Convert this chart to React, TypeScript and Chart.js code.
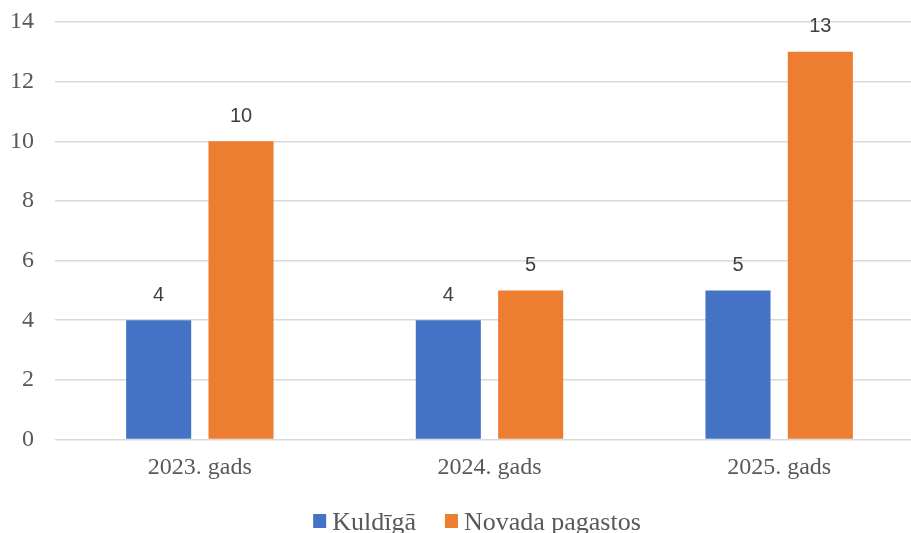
import React, { useEffect, useRef } from "react";
import { Chart, registerables } from "chart.js";

Chart.register(...registerables);

// ---- data ----
const categories = ["2023. gads", "2024. gads", "2025. gads"];
const seriesNames = ["Kuldīgā", "Novada pagastos"];
const kuldigaValues = [4, 4, 5];
const pagastosValues = [10, 5, 13];
const yMin = 0;
const yMax = 14;
const yStep = 2;

// ---- styles ----
const BLUE = "#4472C4";
const ORANGE = "#ED7D31";
const TEXT = "#595959";
const LABEL = "#404040";
const GRID = "#d9d9d9";
const SERIF = "'Liberation Serif', 'Times New Roman', serif";
const SANS = "'Liberation Sans', Arial, sans-serif";

const CANVAS_W = 924;
const CANVAS_H = 533;

const dataLabelPlugin = {
  id: "dataLabels",
  afterDatasetsDraw(chart: any) {
    const ctx = chart.ctx;
    ctx.save();
    ctx.font = `20px ${SANS}`;
    ctx.fillStyle = LABEL;
    ctx.textAlign = "center";
    ctx.textBaseline = "middle";
    chart.data.datasets.forEach((ds: any, i: number) => {
      const meta = chart.getDatasetMeta(i);
      meta.data.forEach((el: any, j: number) => {
        ctx.fillText(String(ds.data[j]), el.x, el.y - 25);
      });
    });
    ctx.restore();
  },
};

const legendPlugin = {
  id: "customLegend",
  afterDraw(chart: any) {
    const ctx = chart.ctx;
    ctx.save();
    ctx.font = `26px ${SERIF}`;
    ctx.textBaseline = "alphabetic";
    ctx.textAlign = "left";
    const box = 13;
    const gapBoxText = 6;
    const gapItems = 29;
    const items = chart.data.datasets.map((ds: any) => ({
      text: ds.label,
      color: ds.backgroundColor,
      w: ctx.measureText(ds.label).width,
    }));
    const total =
      items.reduce((s: number, it: any) => s + box + gapBoxText + it.w, 0) +
      gapItems * (items.length - 1);
    const centerX = 477;
    const baseline = CANVAS_H - 3;
    let x = centerX - total / 2;
    items.forEach((it: any) => {
      ctx.fillStyle = it.color;
      ctx.fillRect(x, baseline - 16, box, box + 1);
      x += box + gapBoxText;
      ctx.fillStyle = TEXT;
      ctx.fillText(it.text, x, baseline);
      x += it.w + gapItems;
    });
    ctx.restore();
  },
};

export default function App() {
  const ref = useRef<HTMLCanvasElement | null>(null);

  useEffect(() => {
    if (!ref.current) return;
    const chart = new Chart(ref.current, {
      type: "bar",
      data: {
        labels: categories,
        datasets: [
          {
            label: seriesNames[0],
            data: kuldigaValues,
            backgroundColor: BLUE,
            categoryPercentage: 0.5686,
            barPercentage: 0.79,
          },
          {
            label: seriesNames[1],
            data: pagastosValues,
            backgroundColor: ORANGE,
            categoryPercentage: 0.5686,
            barPercentage: 0.79,
          },
        ],
      },
      options: {
        responsive: false,
        animation: false,
        devicePixelRatio: 1,
        layout: { padding: { top: 22, bottom: 40, left: 0, right: 0 } },
        plugins: {
          legend: { display: false },
          tooltip: { enabled: false },
        },
        scales: {
          x: {
            grid: { display: false, drawTicks: false },
            border: { display: false },
            ticks: {
              color: TEXT,
              font: { family: SERIF, size: 24 },
              padding: 14,
            },
            afterFit(scale: any) {
              scale.height = 53.5;
            },
          },
          y: {
            min: yMin,
            max: yMax,
            ticks: {
              stepSize: yStep,
              color: TEXT,
              font: { family: SERIF, size: 24 },
              padding: 21,
            },
            grid: { color: GRID, lineWidth: 1.5, drawTicks: false },
            border: { display: false },
            afterFit(scale: any) {
              scale.width = 55;
              scale.paddingTop = 0;
              scale.paddingBottom = 0;
            },
          },
        },
      },
      plugins: [dataLabelPlugin, legendPlugin],
    });
    return () => chart.destroy();
  }, []);

  return (
    <div
      style={{
        position: "absolute",
        left: 0,
        top: 0,
        width: 911,
        height: 533,
        overflow: "hidden",
        background: "#fff",
      }}
    >
      <canvas
        ref={ref}
        width={CANVAS_W}
        height={CANVAS_H}
        style={{ display: "block", width: CANVAS_W, height: CANVAS_H }}
      />
    </div>
  );
}
